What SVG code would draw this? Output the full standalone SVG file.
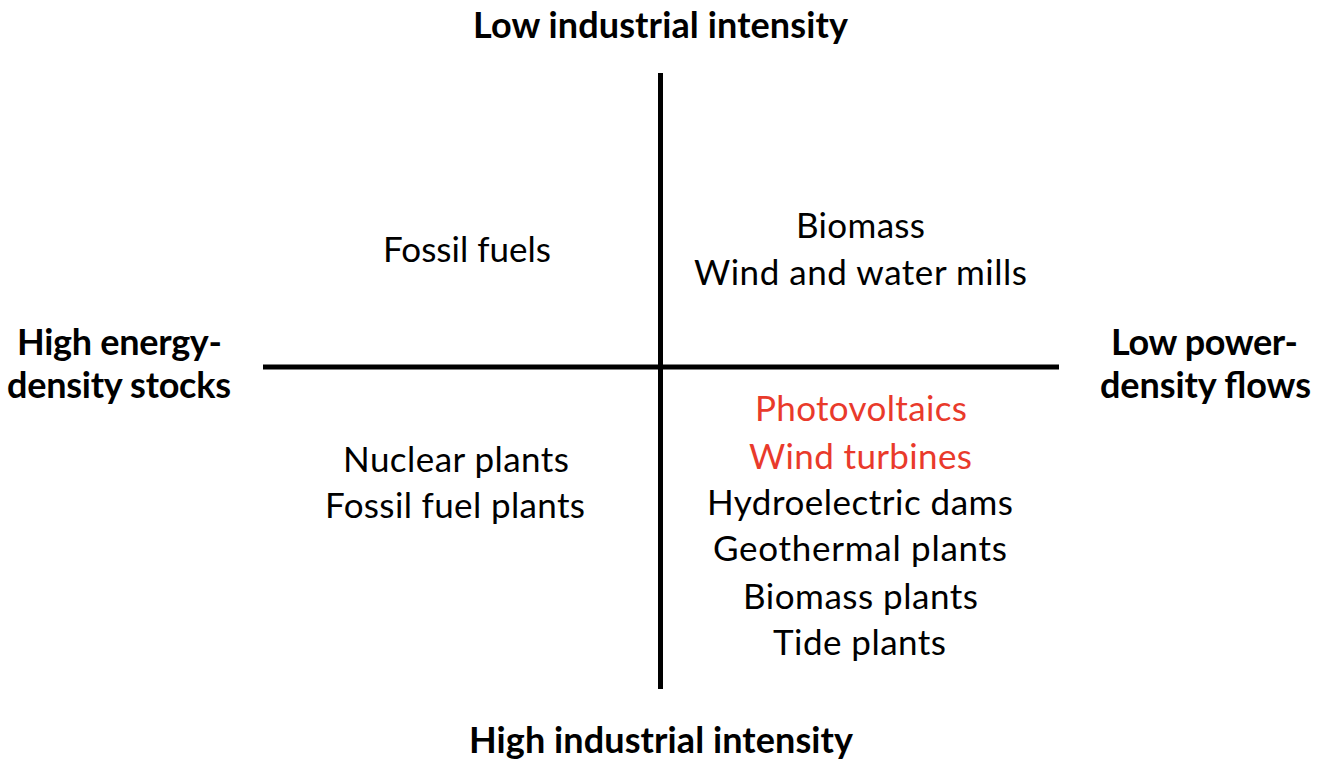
<svg xmlns="http://www.w3.org/2000/svg" width="1326" height="776" viewBox="0 0 1326 776">
<style>
text{font-family:Lato,"Open Sans","Liberation Sans",sans-serif;text-anchor:middle;fill:#000}
.b{font-weight:bold;font-size:36px}
.r{font-size:35px}
.red{fill:#E93A2B}
.ax{stroke:#000;stroke-width:5;fill:none}
</style>
<rect width="1326" height="776" fill="#fff"/>
<g id="connectors">
<line class="ax" x1="660.5" y1="73" x2="660.5" y2="689"/>
<line class="ax" x1="263" y1="367" x2="1059" y2="367"/>
</g>
<g id="top"><text class="b" x="660.5" y="38" textLength="375">Low industrial intensity</text></g>
<g id="bottom"><text class="b" x="661" y="753" textLength="384">High industrial intensity</text></g>
<g id="left"><text class="b" x="119.5" y="355" textLength="205">High energy-</text><text class="b" x="119" y="398" textLength="224">density stocks</text></g>
<g id="right"><text class="b" x="1204.5" y="355" textLength="187">Low power-</text><text class="b" x="1205.5" y="398" textLength="211">density flows</text></g>
<g id="q1"><text class="r" x="467" y="262" textLength="168">Fossil fuels</text></g>
<g id="q2"><text class="r" x="860.5" y="238" textLength="129">Biomass</text><text class="r" x="860.5" y="285" textLength="333">Wind and water mills</text></g>
<g id="q3"><text class="r" x="456" y="472" textLength="226">Nuclear plants</text><text class="r" x="455" y="518" textLength="260">Fossil fuel plants</text></g>
<g id="q4">
<text class="r red" x="861" y="421" textLength="212">Photovoltaics</text>
<text class="r red" x="860.5" y="469" textLength="223">Wind turbines</text>
<text class="r" x="860" y="515" textLength="306">Hydroelectric dams</text>
<text class="r" x="860" y="561" textLength="294">Geothermal plants</text>
<text class="r" x="860.5" y="609" textLength="235">Biomass plants</text>
<text class="r" x="859.5" y="655" textLength="173">Tide plants</text>
</g>
</svg>
